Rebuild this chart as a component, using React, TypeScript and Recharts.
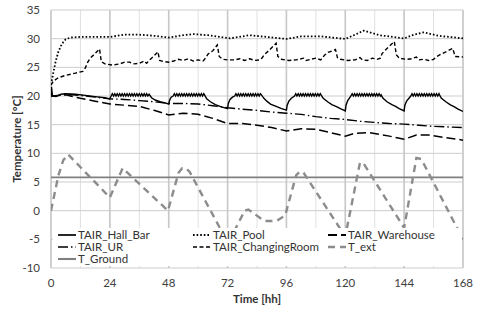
import React from 'react';
import { LineChart, Line, XAxis, YAxis, CartesianGrid, Legend } from 'recharts';

type Pt = [number, number];

const xTicks = [0, 24, 48, 72, 96, 120, 144, 168];
const xMinorTicks = [0, 6, 12, 18, 24, 30, 36, 42, 48, 54, 60, 66, 72, 78, 84, 90, 96, 102, 108, 114, 120, 126, 132, 138, 144, 150, 156, 162, 168];
const yTicks = [-10, -5, 0, 5, 10, 15, 20, 25, 30, 35];

const hallBar: Pt[] = [
  [0, 20.0], [0.2, 21.6], [0.6, 20.0], [2, 19.9], [4, 20.3], [6, 20.4], [10, 20.3], [14, 20.1], [18, 19.9], [22, 19.7], [24, 19.5],
  [24.5, 20.0], [25, 20.4], [25.5, 20.0], [26, 20.4], [26.5, 20.0], [27, 20.4], [27.5, 20.0], [28, 20.4], [28.5, 20.0], [29, 20.4],
  [29.5, 20.0], [30, 20.4], [30.5, 20.0], [31, 20.4], [31.5, 20.0], [32, 20.4], [32.5, 20.0], [33, 20.4], [33.5, 20.0], [34, 20.4],
  [34.5, 20.0], [35, 20.4], [35.5, 20.0], [36, 20.4], [36.5, 20.0], [37, 20.4], [37.5, 20.0], [38, 20.4], [38.5, 20.0], [39, 20.4],
  [39.5, 20.0], [40, 20.3],
  [41, 19.7], [42.5, 19.3], [44.5, 19.0], [46.5, 18.8], [48, 18.6],
  [48.4, 19.3], [49, 19.8], [49.8, 20.0],
  [50.3, 20.4], [50.8, 20.0], [51.3, 20.4], [51.8, 20.0], [52.3, 20.4], [52.8, 20.0], [53.3, 20.4], [53.8, 20.0], [54.3, 20.4],
  [54.8, 20.0], [55.3, 20.4], [55.8, 20.0], [56.3, 20.4], [56.8, 20.0], [57.3, 20.4], [57.8, 20.0], [58.3, 20.4], [58.8, 20.0],
  [59.3, 20.4], [59.8, 20.0], [60.3, 20.4], [60.8, 20.0], [61.3, 20.4], [61.8, 20.0], [62.3, 20.4], [62.6, 20.2],
  [63.5, 19.5], [65, 19.0], [67, 18.5], [69.5, 18.1], [72, 17.8],
  [72.3, 18.7], [73, 19.4], [74, 19.8], [74.9, 20.0],
  [75.4, 20.4], [75.9, 20.0], [76.4, 20.4], [76.9, 20.0], [77.4, 20.4], [77.9, 20.0], [78.4, 20.4], [78.9, 20.0], [79.4, 20.4],
  [79.9, 20.0], [80.4, 20.4], [80.9, 20.0], [81.4, 20.4], [81.9, 20.0], [82.4, 20.4], [82.9, 20.0], [83.4, 20.4], [83.9, 20.0],
  [84.4, 20.4], [84.9, 20.0], [85.4, 20.4], [85.8, 20.2],
  [86.8, 19.6], [88, 19.1], [89.5, 18.6], [91.8, 18.2], [94, 17.8], [96, 17.55],
  [96.3, 18.4], [97, 19.1], [98, 19.6], [99.3, 20.0],
  [99.8, 20.4], [100.3, 20.0], [100.8, 20.4], [101.3, 20.0], [101.8, 20.4], [102.3, 20.0], [102.8, 20.4], [103.3, 20.0],
  [103.8, 20.4], [104.3, 20.0], [104.8, 20.4], [105.3, 20.0], [105.8, 20.4], [106.3, 20.0], [106.8, 20.4], [107.3, 20.0],
  [107.8, 20.4], [108.3, 20.0], [108.8, 20.4], [109.3, 20.0], [109.8, 20.4], [110.1, 20.2],
  [111, 19.6], [112.8, 19.0], [114.5, 18.5], [116.2, 18.2], [118, 17.8], [120, 17.4],
  [120.3, 18.4], [121, 19.2], [122.3, 20.0],
  [122.8, 20.4], [123.3, 20.0], [123.8, 20.4], [124.3, 20.0], [124.8, 20.4], [125.3, 20.0], [125.8, 20.4], [126.3, 20.0],
  [126.8, 20.4], [127.3, 20.0], [127.8, 20.4], [128.3, 20.0], [128.8, 20.4], [129.3, 20.0], [129.8, 20.4], [130.3, 20.0],
  [130.8, 20.4], [131.3, 20.0], [131.8, 20.4], [132.3, 20.0], [132.8, 20.4], [133.3, 20.0], [133.8, 20.4], [134.3, 20.0], [134.6, 20.2],
  [135.4, 19.6], [137, 19.0], [139, 18.5], [140.5, 18.2], [142, 17.8], [144, 17.4],
  [144.3, 18.4], [145, 19.1], [146.7, 20.0],
  [147.2, 20.4], [147.7, 20.0], [148.2, 20.4], [148.7, 20.0], [149.2, 20.4], [149.7, 20.0], [150.2, 20.4], [150.7, 20.0],
  [151.2, 20.4], [151.7, 20.0], [152.2, 20.4], [152.7, 20.0], [153.2, 20.4], [153.7, 20.0], [154.2, 20.4], [154.7, 20.0],
  [155.2, 20.4], [155.7, 20.0], [156.2, 20.4], [156.7, 20.0], [157.2, 20.4], [157.7, 20.0], [158.2, 20.4], [158.4, 20.2],
  [159.2, 19.6], [161, 19.0], [162.7, 18.5], [164.5, 18.1], [166, 17.7], [168, 17.3],
];

const pool: Pt[] = [
  [0, 22.0], [1, 24.2], [2, 26.2], [3, 27.7], [4, 28.7], [5, 29.4], [6, 29.9], [8, 30.2], [12, 30.3], [20, 30.3], [24, 30.3],
  [30, 30.7], [36, 30.7], [42, 30.5], [48, 30.2], [54, 30.6], [58, 30.8], [64, 30.6], [73, 30.05], [81, 30.6], [88, 30.3],
  [96, 29.95], [102, 30.4], [110, 30.4], [120, 29.95], [124, 30.7], [127.5, 31.4], [134, 30.6], [144, 30.05], [148, 30.7],
  [152, 31.1], [158, 30.5], [168, 30.05],
];

const warehouse: Pt[] = [
  [0, 20.0], [3, 20.1], [6, 20.2], [9, 19.9], [12, 19.6], [18, 19.1], [24, 18.6], [30, 18.4], [36, 18.2], [42, 17.5],
  [48, 16.7], [54, 17.0], [60, 16.8], [66, 16.1], [72, 15.2], [78, 15.2], [84, 14.9], [90, 14.5], [96, 13.9], [102, 14.3],
  [108, 14.2], [114, 13.6], [120, 13.0], [124, 13.5], [130, 13.6], [138, 13.0], [144, 12.45], [149, 13.2], [154, 13.2],
  [160, 12.8], [168, 12.3],
];

const ur: Pt[] = [
  [0, 20.0], [3, 20.1], [6, 20.3], [12, 20.1], [18, 19.8], [24, 19.5], [30, 19.4], [36, 19.2], [42, 19.0], [48, 18.7],
  [54, 18.7], [60, 18.6], [66, 18.3], [72, 17.95], [78, 17.7], [84, 17.5], [90, 17.2], [96, 17.0], [102, 16.8], [108, 16.4],
  [114, 16.1], [120, 15.9], [126, 15.6], [132, 15.4], [138, 15.2], [144, 15.1], [150, 14.9], [156, 14.7], [162, 14.6], [168, 14.5],
];

const changingRoom: Pt[] = [
  [0, 21.9], [1, 22.6], [3, 23.2], [6, 23.6], [10, 24.0], [13, 24.3], [14, 24.9], [15, 25.9], [16, 26.6], [17.5, 27.2],
  [19.8, 28.2], [20.5, 26.0], [22, 25.6], [25, 25.4], [28, 25.6], [30, 25.9], [32, 25.9], [34, 25.6], [36, 25.7], [38, 26.1],
  [39, 25.7], [40, 26.2], [41, 26.6], [42, 27.0], [43.6, 27.7], [44.3, 26.2], [46, 26.0], [48, 25.9], [50, 26.1], [52, 26.4],
  [54, 26.2], [56, 26.5], [58, 26.1], [60, 26.3], [62, 26.1], [63, 26.6], [64, 27.3], [66, 27.9], [67.8, 28.9], [68.6, 26.9],
  [70, 26.4], [72, 26.3], [75, 26.3], [77, 26.5], [79, 26.2], [81, 26.5], [83, 26.2], [85, 26.3], [86, 26.6], [87, 27.2],
  [89, 28.0], [91.8, 29.2], [92.5, 26.9], [94, 26.4], [97, 26.2], [100, 26.3], [103, 26.6], [104, 26.2], [106, 26.4],
  [108, 26.6], [110, 26.3], [111.5, 27.1], [113, 27.6], [116, 28.1], [116.8, 26.7], [118, 26.4], [121, 26.2], [124, 26.3],
  [126, 26.7], [127, 26.3], [129, 26.2], [131, 26.6], [133, 26.4], [134.3, 26.6], [135, 27.4], [137, 28.3], [140, 29.5],
  [140.8, 27.2], [142, 26.6], [145, 26.4], [147, 26.5], [149, 26.8], [150, 26.3], [152, 26.4], [154, 26.2], [156, 26.4],
  [157, 26.8], [159, 27.3], [161, 27.7], [163.8, 28.3], [164.8, 26.9], [168, 26.8],
];

const tExt: Pt[] = [
  [0, 0], [3, 6.1], [5, 8.8], [7, 9.8], [24, 2.3], [29.2, 7.4], [47.7, 0], [52, 6.6], [53.5, 7.4], [55, 7.4], [56.5, 6.8],
  [72, -5.5], [73, -5], [79, 0], [80.5, 0.2], [87, -1.8], [92, -1.8], [95.5, -0.8], [100, 6.2], [101.5, 6.8], [103, 6.6],
  [120, -4.5], [126, 8.4], [127.5, 8.2], [144, -3], [149, 9.2], [151, 9.0], [168, -5],
];

const tGround: Pt[] = [[0, 5.8], [168, 5.8]];

const toRows = (pts: Pt[]) => pts.map(([t, v]) => ({ t, v }));

const series = [
  { name: 'TAIR_Hall_Bar', color: '#000000', width: 1.4, dash: undefined as string | undefined, pts: hallBar },
  { name: 'TAIR_Pool', color: '#000000', width: 1.8, dash: '1.6 2', pts: pool },
  { name: 'TAIR_Warehouse', color: '#000000', width: 1.5, dash: '9 4', pts: warehouse },
  { name: 'TAIR_UR', color: '#000000', width: 1.4, dash: '10 3 1.5 3', pts: ur },
  { name: 'TAIR_ChangingRoom', color: '#000000', width: 1.4, dash: '4 2.5', pts: changingRoom },
  { name: 'T_ext', color: '#8c8c8c', width: 2.4, dash: '7 5', pts: tExt },
  { name: 'T_Ground', color: '#808080', width: 1.8, dash: undefined as string | undefined, pts: tGround },
];

const drawOrder = ['T_Ground', 'T_ext', 'TAIR_Warehouse', 'TAIR_UR', 'TAIR_ChangingRoom', 'TAIR_Pool', 'TAIR_Hall_Bar'];

const FONT = 'Lato, "Open Sans", sans-serif';

const LegendBox = () => (
  <div style={{ position: 'relative', width: 409, height: 38, background: '#ffffff', fontFamily: FONT, fontSize: 11.5, color: '#333' }}>
    {series.map((s, i) => {
      const col = i % 3;
      const row = Math.floor(i / 3);
      return (
        <div key={s.name} style={{ position: 'absolute', left: 5 + col * 135, top: 1 + row * 12, height: 12, display: 'flex', alignItems: 'center', whiteSpace: 'nowrap' }}>
          <svg width={18} height={12} style={{ marginRight: 2 }}>
            <line x1={0} y1={6} x2={18} y2={6} stroke={s.color} strokeWidth={s.width + 0.3} strokeDasharray={s.dash} />
          </svg>
          <span style={{ lineHeight: '12px' }}>{s.name}</span>
        </div>
      );
    })}
  </div>
);

const YTitle = () => (
  <text x={16} y={139} transform="rotate(-90 16 139)" textAnchor="middle" dominantBaseline="central"
    style={{ fontFamily: FONT, fontSize: 11.5, fontWeight: 700, fill: '#333' }}>Temperature [°C]</text>
);

const XTitle = () => (
  <text x={257} y={298} textAnchor="middle" dominantBaseline="central"
    style={{ fontFamily: FONT, fontSize: 11.5, fontWeight: 700, fill: '#333' }}>Time [hh]</text>
);

export default function App() {
  return (
    <div style={{ position: 'absolute', left: 0, top: 0, width: 480, height: 314, background: '#fff' }}>
      <LineChart width={480} height={314} margin={{ top: 10, right: 17, bottom: 0, left: 0 }}>
        <XAxis xAxisId="minor" type="number" dataKey="t" domain={[0, 168]} ticks={xMinorTicks} hide allowDataOverflow />
        <CartesianGrid xAxisId="minor" horizontal={false} vertical stroke="#e0e0e0" strokeWidth={1} />
        <CartesianGrid xAxisId="main" horizontal vertical={false} stroke="#cdcdcd" strokeWidth={1} />
        <CartesianGrid xAxisId="main" horizontal={false} vertical stroke="#c8c8c8" strokeWidth={1.6} />
        <XAxis xAxisId="main" type="number" dataKey="t" domain={[0, 168]} ticks={xTicks} height={46}
          axisLine={false} tickLine={false} tickSize={0} tickMargin={11} interval={0} allowDataOverflow
          tick={{ fontFamily: FONT, fontSize: 11.5, fill: '#404040' }} label={<XTitle />} />
        <YAxis type="number" domain={[-10, 35]} ticks={yTicks} width={51} axisLine={false} tickLine={false}
          tickSize={0} tickMargin={11} interval={0} allowDataOverflow
          tick={{ fontFamily: FONT, fontSize: 11.5, fill: '#404040' }} label={<YTitle />} />
        {drawOrder.map((n) => {
          const s = series.find((x) => x.name === n)!;
          return (
            <Line key={s.name} xAxisId="main" data={toRows(s.pts)} dataKey="v" name={s.name} type="linear"
              stroke={s.color} strokeWidth={s.width} strokeDasharray={s.dash} dot={false} activeDot={false}
              isAnimationActive={false} />
          );
        })}
        <Legend layout="horizontal" verticalAlign="middle" align="center" content={<LegendBox />}
          wrapperStyle={{ position: 'absolute', left: 53, top: 228, width: 409, height: 38, margin: 0, padding: 0 }} />
      </LineChart>
    </div>
  );
}
